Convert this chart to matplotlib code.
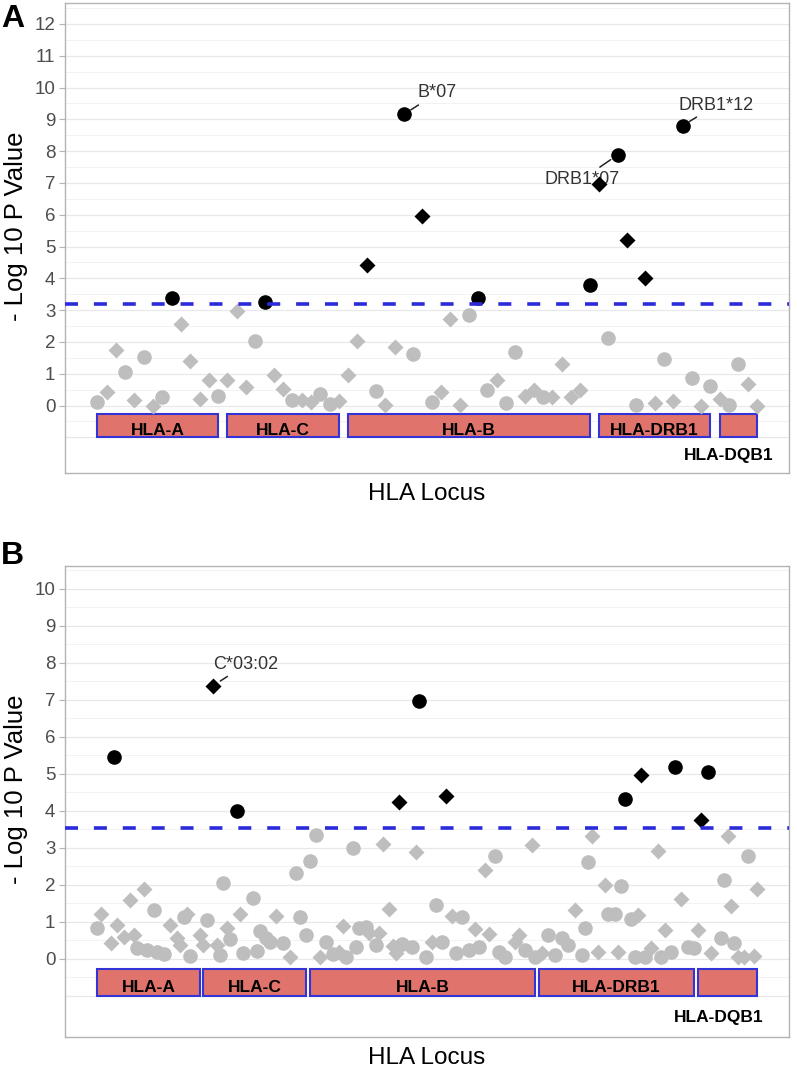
import numpy as np
import matplotlib
matplotlib.use('Agg')
import matplotlib.pyplot as plt
from matplotlib.patches import Rectangle

plt.rcParams['font.family'] = ['Liberation Sans', 'DejaVu Sans']

loci = ['HLA-A', 'HLA-C', 'HLA-B', 'HLA-DRB1', 'HLA-DQB1']

# ---- panel A: one point per allele, index 0..71
a_vals = [0.10, 0.44, 1.75, 1.06, 0.19, 1.53, 0.00, 0.26, 3.37, 2.56,
          1.40, 0.22, 0.81, 0.29, 0.81, 2.99, 0.57, 2.03, 3.25, 0.97,
          0.53, 0.16, 0.16, 0.12, 0.38, 0.06, 0.13, 0.97, 2.03, 4.42,
          0.45, 0.03, 1.85, 9.16, 1.63, 5.96, 0.10, 0.44, 2.71, 0.03,
          2.84, 3.38, 0.49, 0.80, 0.07, 1.67, 0.31, 0.49, 0.26, 0.26,
          1.30, 0.26, 0.49, 3.80, 6.96, 2.13, 7.88, 5.20, 0.03, 4.02,
          0.08, 1.46, 0.13, 8.80, 0.87, 0.00, 0.63, 0.21, 0.02, 1.30,
          0.68, 0.00]
# o = circle, d = diamond (one letter per value, rows of 10)
a_kind = list("oddododood" "dddodddood" "doddoodddd" "oddoododdd"
              "ooodooddod" "dddodoodod" "dodoododoo" "dd")
a_first = [0, 14, 27, 54, 67]
a_last = [13, 26, 53, 66, 71]
a_threshold = 3.2
a_named = {33: 'B*07', 56: 'DRB1*07', 63: 'DRB1*12'}

# ---- panel B: allele index 0..199 (visible points)
b_idx = [0, 1, 4, 5, 6, 8, 10, 11, 12, 14,
         15, 17, 18, 20, 22, 24, 25, 26, 27, 28,
         31, 32, 33, 35, 36, 37, 38, 39, 40, 42,
         43, 44, 47, 48, 49, 51, 52, 54, 56, 58,
         60, 61, 63, 64, 66, 67, 69, 71, 73, 74,
         75, 77, 78, 79, 81, 82, 84, 85, 86, 88,
         89, 90, 91, 92, 95, 96, 97, 99, 101, 102,
         104, 105, 107, 108, 110, 112, 114, 115, 117, 118,
         120, 121, 123, 126, 127, 129, 131, 132, 134, 136,
         138, 140, 142, 144, 146, 147, 148, 149, 151, 153,
         154, 156, 157, 158, 159, 161, 162, 163, 164, 165,
         167, 169, 170, 171, 173, 174, 176, 178, 180, 181,
         182, 184, 185, 188, 189, 190, 191, 192, 193, 195,
         196, 198, 199]
b_vals = [0.83, 1.21, 0.44, 5.45, 0.92, 0.60, 1.59, 0.65, 0.29, 1.89,
          0.24, 1.32, 0.20, 0.14, 0.92, 0.56, 0.38, 1.14, 1.22, 0.09,
          0.65, 0.38, 1.05, 7.39, 0.38, 0.11, 2.05, 0.83, 0.53, 4.01,
          1.21, 0.15, 1.64, 0.22, 0.76, 0.56, 0.47, 1.16, 0.42, 0.05,
          2.32, 1.13, 0.66, 2.65, 3.36, 0.06, 0.47, 0.12, 0.20, 0.90,
          0.06, 3.00, 0.33, 0.83, 0.86, 0.69, 0.38, 0.69, 3.10, 1.36,
          0.35, 0.15, 4.25, 0.40, 0.33, 2.90, 6.98, 0.06, 0.47, 1.46,
          0.47, 4.41, 1.16, 0.15, 1.14, 0.24, 0.82, 0.33, 2.41, 0.67,
          2.77, 0.20, 0.06, 0.47, 0.65, 0.24, 3.08, 0.06, 0.15, 0.65,
          0.11, 0.56, 0.38, 1.33, 0.11, 0.84, 2.63, 3.33, 0.20, 1.99,
          1.22, 1.22, 0.20, 1.97, 4.32, 1.07, 0.06, 1.20, 4.97, 0.06,
          0.29, 2.93, 0.06, 0.77, 0.20, 5.20, 1.61, 0.33, 0.29, 0.78,
          3.76, 5.05, 0.15, 0.57, 2.14, 3.32, 1.42, 0.42, 0.06, 0.06,
          2.77, 0.08, 1.88]
b_kind = list("oddoddddod" "oooodddodo" "ddoddoodoo" "doooooodod"
              "ooooodoodd" "ooooododdd" "dddoodoodo" "oddooododd"
              "oooddododo" "ooodoooddd" "oodooooddo" "ddodoodood"
              "dodooddodd" "odd")
b_first = [0, 32, 64, 133, 181]
b_last = [31, 63, 132, 180, 199]
b_threshold = 3.55
b_named = {35: 'C*03:02'}

gray = '#BEBEBE'
line_blue = '#2B2BDB'
box_fill = '#E0736B'
box_edge = '#3434D6'


def draw_panel(ax, x, vals, kind, first, last, thr, ytop, ylim, xlim,
               named, label_pos):
    ax.set_xlim(*xlim)
    ax.set_ylim(*ylim)
    for v in np.arange(-1.0, ylim[1], 0.5):
        major = float(v).is_integer()
        ax.axhline(v, color='#E8E8E8' if major else '#F0F0F0',
                   lw=0.9 if major else 0.6, zorder=0)

    x = np.asarray(x)
    vals = np.asarray(vals)
    kind = np.asarray(kind)
    sig = vals > thr
    for k, m, ms in [('o', 'o', 10.5), ('d', 'D', 8.6)]:
        sel = (kind == k) & ~sig
        ax.plot(x[sel], vals[sel], m, color=gray, ms=ms, mec='none', zorder=3)
    for k, m, ms in [('o', 'o', 10.5), ('d', 'D', 8.6)]:
        sel = (kind == k) & sig
        ax.plot(x[sel], vals[sel], m, color='black', ms=ms, mec='none', zorder=4)

    ax.axhline(thr, color=line_blue, lw=2.6, dashes=(3.6, 4.4), zorder=5)

    # locus boxes
    span = xlim[1] - xlim[0]
    for name, f, l in zip(loci, first, last):
        ax.add_patch(Rectangle((f, -1.0), l - f, 0.72, facecolor=box_fill,
                               edgecolor=box_edge, lw=1.5, zorder=2))
        cx = (f + l) / 2
        if name == 'HLA-DQB1':
            ax.text(cx - 0.013 * span, -1.57, name, ha='center', va='center',
                    fontsize=12.5, fontweight='bold')
        else:
            ax.text(cx, -0.77, name, ha='center', va='center', fontsize=12.5,
                    fontweight='bold')

    # labelled alleles
    for i, lab in named.items():
        xi = list(x).index(i)
        tx, ty = label_pos[lab]
        ax.annotate(lab, xy=(x[xi], vals[xi]), xytext=(tx, ty),
                    ha='center', va='center', fontsize=13, color='#333333',
                    arrowprops=dict(arrowstyle='-', color='#222222', lw=1.1,
                                    shrinkA=1, shrinkB=6), zorder=3.5)

    ax.set_yticks(range(0, ytop + 1))
    ax.set_xticks([])
    ax.tick_params(axis='y', colors='#B3B3B3', labelcolor='#4D4D4D',
                   labelsize=13.5, length=4, width=0.8, pad=3)
    for s in ax.spines.values():
        s.set_color('#B3B3B3')
        s.set_linewidth(1.0)
    ax.set_xlabel('HLA Locus', fontsize=17.5, labelpad=7)


fig = plt.figure(figsize=(7.97, 10.68), dpi=100)
W, H = 797, 1068

ax_a = fig.add_axes([65 / W, 1 - 473 / H, 724 / W, 470 / H])
draw_panel(ax_a, list(range(len(a_vals))), a_vals, a_kind, a_first, a_last,
           a_threshold, 12, (-2.12, 12.66), (-3.48, 74.46), a_named,
           {'B*07': (36.6, 9.83), 'DRB1*07': (52.2, 7.12),
            'DRB1*12': (66.6, 9.45)})

ax_b = fig.add_axes([65 / W, 1 - 1037 / H, 724 / W, 471 / H])
draw_panel(ax_b, b_idx, b_vals, b_kind, b_first, b_last, b_threshold, 10,
           (-2.11, 10.62), (-9.73, 208.5), b_named,
           {'C*03:02': (44.8, 7.96)})

fig.text(16 / W, 1 - 226 / H, '- Log 10 P Value', rotation=90, fontsize=18.5,
         ha='center', va='center')
fig.text(16 / W, 1 - 789 / H, '- Log 10 P Value', rotation=90, fontsize=18.5,
         ha='center', va='center')
fig.text(1 / W, 1 - 19 / H, 'A', fontsize=23, fontweight='bold',
         ha='left', va='center')
fig.text(1 / W, 1 - 556 / H, 'B', fontsize=23, fontweight='bold',
         ha='left', va='center')

fig.savefig('out.png', dpi=100, facecolor='white')
